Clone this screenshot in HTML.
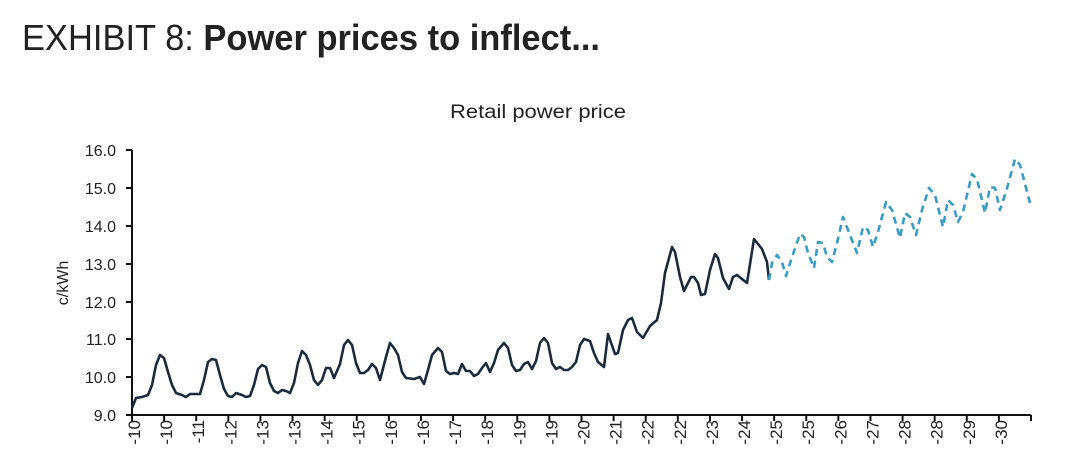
<!DOCTYPE html>
<html><head><meta charset="utf-8"><style>
html,body{margin:0;padding:0;background:#fff;width:1066px;height:452px;overflow:hidden}
svg{display:block}
text{font-family:"Liberation Sans",sans-serif;fill:#222}
</style></head><body>
<svg width="1066" height="452" viewBox="0 0 1066 452" xmlns="http://www.w3.org/2000/svg">
<text x="22" y="50" font-size="36" style="font-family:'Liberation Sans Narrow','Liberation Sans',sans-serif" fill="#111" textLength="578" lengthAdjust="spacingAndGlyphs"><tspan font-weight="300">EXHIBIT 8: </tspan><tspan font-weight="bold">Power prices to inflect...</tspan></text>
<text x="538" y="118" font-size="19" text-anchor="middle" textLength="176" lengthAdjust="spacingAndGlyphs">Retail power price</text>
<g font-size="16" text-anchor="end">
<text x="116" y="156">16.0</text><text x="116" y="194">15.0</text><text x="116" y="232">14.0</text><text x="116" y="270">13.0</text><text x="116" y="308">12.0</text><text x="116" y="345">11.0</text><text x="116" y="383">10.0</text><text x="116" y="421">9.0</text>
</g>
<text transform="translate(68,283) rotate(-90)" font-size="16" text-anchor="middle">c/kWh</text>
<g stroke="#111" stroke-width="2" fill="none">
<path d="M132,150V415H1031"/>
<path d="M126,150H132M126,188H132M126,226H132M126,264H132M126,302H132M126,339H132M126,377H132M126,415H132"/>
</g>
<g id="tk" stroke="#111" stroke-width="2"></g>
<g id="lb" font-size="17" text-anchor="end"></g>
<polyline fill="none" stroke="#1c2a3c" stroke-width="2.6" stroke-linejoin="round" points="132,408 136,398 142,397 148,395 152,385 156,365 160,355 164,358 168,372 172,385 176,393 182,395 186,397 190,394 196,394 200,394 204,380 208,362 212,359 216,360 220,375 224,389 228,396 232,397 236,393 242,395 246,397 250,396 254,385 258,369 262,365 266,367 270,383 274,391 278,393 282,390 286,391 290,393 294,383 298,363 302,351 306,355 310,365 314,380 318,385 322,380 326,368 330,368 334,378 340,364 344,345 348,340 352,345 356,363 360,373 364,373 368,370 372,364 376,368 380,380 386,357 390,343 394,348 398,355 402,372 406,378 414,379 420,377 424,384 428,370 432,355 438,348 442,352 446,371 450,374 454,373 458,374 462,364 466,371 470,371 474,376 478,374 482,368 486,363 490,372 494,363 498,350 504,343 508,348 512,365 516,371 520,370 524,364 528,362 532,369 536,361 540,343 544,338 548,343 552,363 556,369 560,367 564,370 568,370 572,367 576,362 580,345 584,339 590,341 594,353 598,362 604,367 608,334 615,354 618,353 623,330 628,320 632,318 637,332 643,338 650,326 657,320 661,303 665,273 672,247 675,252 680,277 684,291 691,277 694,277 698,283 701,295 705,294 710,270 715,254 718,258 723,278 729,289 733,277 737,275 742,279 747,283 754,239 762,249 767,262 769,280"/>
<polyline fill="none" stroke="#3a9cc0" stroke-width="2.6" stroke-dasharray="7,5" stroke-linejoin="round" points="769,280 772,263 777,255 782,262 786,276 792,257 800,234 804,237 808,253 814,268 818,242 823,243 827,257 832,262 837,243 843,217 848,230 857,253 863,227 868,230 873,247 878,232 886,202 892,210 900,238 905,213 910,217 916,235 922,210 929,188 935,195 943,227 948,200 953,205 958,222 963,212 972,174 977,179 985,213 990,187 995,188 1000,210 1006,192 1015,159 1020,165 1030,203"/>
</svg>
<script>
var labs=["-10","-10","-11","-12","-13","-13","-14","-15","-16","-16","-17","-18","-19","-19","-20","-21","-22","-22","-23","-24","-25","-25","-26","-27","-28","-28","-29","-30"];
var tk=document.getElementById("tk"),lb=document.getElementById("lb"),ns="http://www.w3.org/2000/svg";
for(var i=0;i<=28;i++){var x=132+i*32.107;var l=document.createElementNS(ns,"line");l.setAttribute("x1",x);l.setAttribute("x2",x);l.setAttribute("y1",415);l.setAttribute("y2",421);tk.appendChild(l);
if(i<28){var t=document.createElementNS(ns,"text");t.setAttribute("transform","translate("+(x+8)+",420) rotate(-90)");t.textContent=labs[i];lb.appendChild(t);}}
</script>
</body></html>
